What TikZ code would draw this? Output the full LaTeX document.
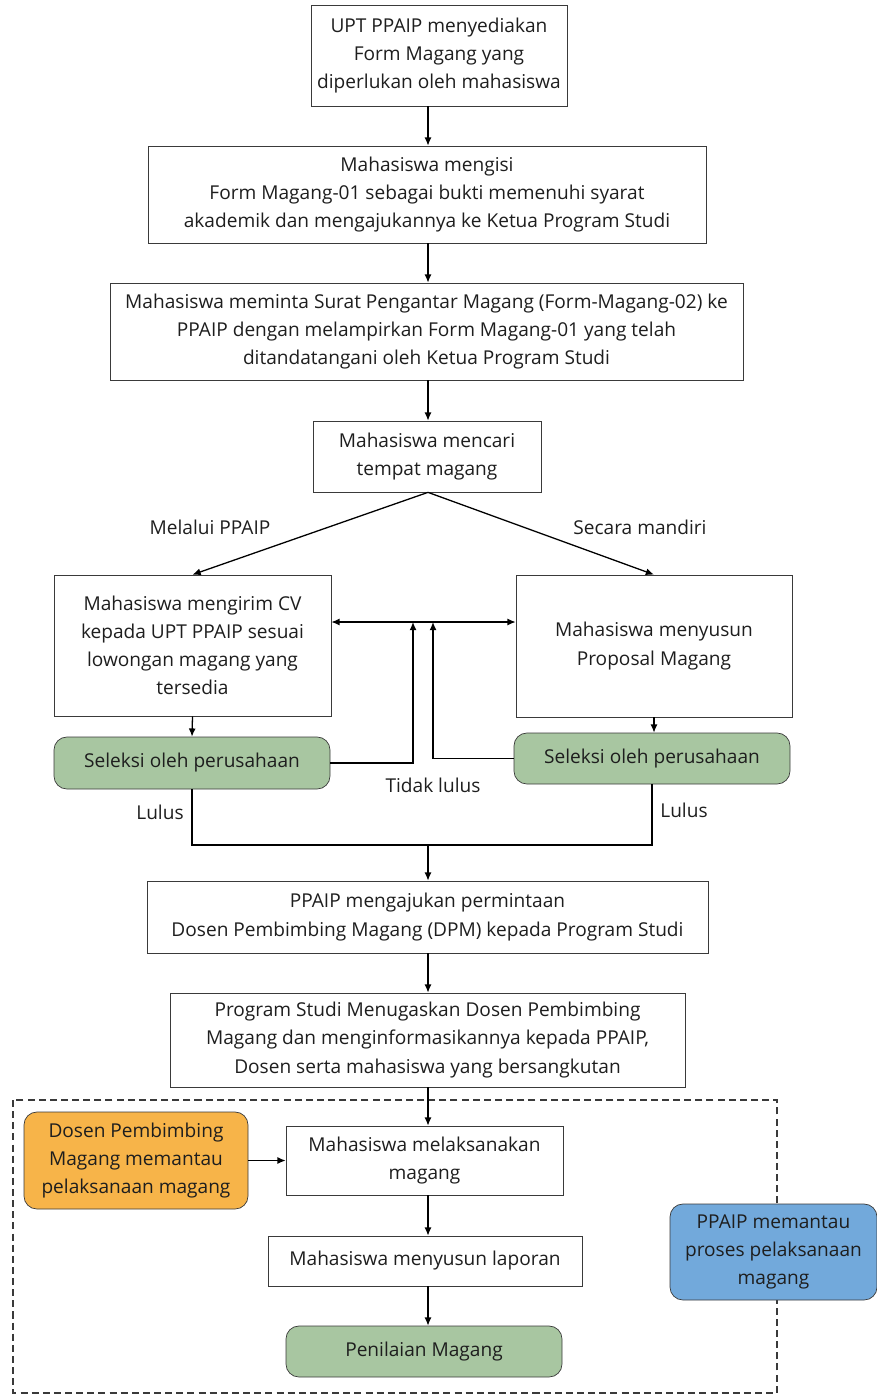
\documentclass[tikz,border=0pt]{standalone}
\usepackage{fontspec}
\setmainfont{Open Sans}
\usetikzlibrary{arrows.meta}
\definecolor{BoxLine}{HTML}{3A3A3A}
\definecolor{SageGreen}{HTML}{A8C6A1}
\definecolor{WarmOrange}{HTML}{F7B449}
\definecolor{SkyBlue}{HTML}{72A9DB}
\definecolor{TextBlack}{HTML}{1E1E1E}

\begin{document}
\begin{tikzpicture}[x=0.03cm, y=-0.03cm,
  every node/.style={font=\fontsize{16.3}{24}\selectfont, text=TextBlack},
  sz/.style 2 args={minimum width=#1*0.03cm, minimum height=#2*0.03cm},
  stepbox/.style={draw=BoxLine, line width=0.6pt, fill=white, align=center, inner sep=1pt},
  greenbox/.style={stepbox, fill=SageGreen, rounded corners=11pt},
  arr/.style={-{Latex[length=7pt,width=6pt]}, line width=1.1pt},
  link/.style={line width=1.1pt}]
  \useasboundingbox (0,0) rectangle (877,1395);

  % main column
  \node[stepbox, sz={256}{101}] (form) at (439,55.5)
  {UPT PPAIP menyediakan\\Form Magang yang\\diperlukan oleh mahasiswa};
  \node[stepbox, sz={558}{97}] (isi) at (427,194.5)
  {Mahasiswa mengisi\\Form Magang-01 sebagai bukti memenuhi syarat\\akademik dan mengajukannya ke Ketua Program Studi};
  \node[stepbox, sz={633}{97}] (surat) at (426.5,331.5)
  {Mahasiswa meminta Surat Pengantar Magang (Form-Magang-02) ke\\PPAIP dengan melampirkan Form Magang-01 yang telah\\ditandatangani oleh Ketua Program Studi};
  \node[stepbox, sz={228}{71}] (cari) at (427,456.5)
  {Mahasiswa mencari\\tempat magang};

  % two ways
  \node[stepbox, sz={277}{141}] (cv) at (192.5,645.5)
  {Mahasiswa mengirim CV\\kepada UPT PPAIP sesuai\\lowongan magang yang\\tersedia};
  \node[stepbox, sz={276}{142}] (proposal) at (654,646)
  {Mahasiswa menyusun\\Proposal Magang};
  \node[greenbox, sz={276}{52}] (selA) at (192,763) {Seleksi oleh perusahaan};
  \node[greenbox, sz={276}{51}] (selB) at (652,758.5) {Seleksi oleh perusahaan};

  \node (viaA) at (210,527) {Melalui PPAIP};
  \node (viaB) at (640,527) {Secara mandiri};
  \node (gagal) at (433,785) {Tidak lulus};
  \node (lulusA) at (160,812) {Lulus};
  \node (lulusB) at (684,810) {Lulus};

  \node[stepbox, sz={561}{72}] (dpm) at (427.5,917)
  {PPAIP mengajukan permintaan\\Dosen Pembimbing Magang (DPM) kepada Program Studi};
  \node[stepbox, sz={515}{94}] (tugas) at (427.5,1040)
  {Program Studi Menugaskan Dosen Pembimbing\\Magang dan menginformasikannya kepada PPAIP,\\Dosen serta mahasiswa yang bersangkutan};

  % monitoring frame
  \draw[BoxLine, line width=0.9pt, dash pattern=on 6pt off 3.5pt] (13,1100) rectangle (777,1393);
  \node[greenbox, fill=WarmOrange, sz={224}{97}] (dosen) at (136,1160.5)
  {Dosen Pembimbing\\Magang memantau\\pelaksanaan magang};
  \node[stepbox, sz={277}{69}] (laksana) at (424.5,1160.5)
  {Mahasiswa melaksanakan\\magang};
  \node[stepbox, sz={314}{50}] (laporan) at (425,1261) {Mahasiswa menyusun laporan};
  \node[greenbox, sz={276}{51}] (nilai) at (424,1351.5) {Penilaian Magang};
  \node[greenbox, fill=SkyBlue, sz={207}{96}] (pantau) at (773.5,1252)
  {PPAIP memantau\\proses pelaksanaan\\magang};

  % connectors
  \coordinate (spine) at (428,0);
  \coordinate (dbl) at (0,622);
  \coordinate (backA) at (413,622);
  \coordinate (backB) at (433,622);
  \coordinate (join) at (428,845);

  \draw[arr] (form.south -| spine) -- (isi.north -| spine);
  \draw[arr] (isi.south -| spine) -- (surat.north -| spine);
  \draw[arr] (surat.south -| spine) -- (cari.north -| spine);
  \draw[arr] (cari.south -| spine) -- (cv.north);
  \draw[arr] (cari.south -| spine) -- (proposal.north);
  \draw[arr, {Latex[length=7pt,width=6pt]}-{Latex[length=7pt,width=6pt]}] (cv.east |- dbl) -- (proposal.west |- dbl);
  \draw[arr] (cv.south) -- (selA.north);
  \draw[arr] (proposal.south) -- (selB.north -| proposal.south);
  \draw[arr] (selA.east) -| (backA);
  \draw[arr] (selB.west) -| (backB);
  \draw[link] (selA.south) |- (join);
  \draw[link] (selB.south) |- (join);
  \draw[arr] (join) -- (dpm.north -| join);
  \draw[arr] (dpm.south -| spine) -- (tugas.north -| spine);
  \draw[arr] (tugas.south -| spine) -- (laksana.north -| spine);
  \draw[arr] (dosen.east) -- (laksana.west);
  \draw[arr] (laksana.south -| spine) -- (laporan.north -| spine);
  \draw[arr] (laporan.south -| spine) -- (nilai.north -| spine);
\end{tikzpicture}
\end{document}
